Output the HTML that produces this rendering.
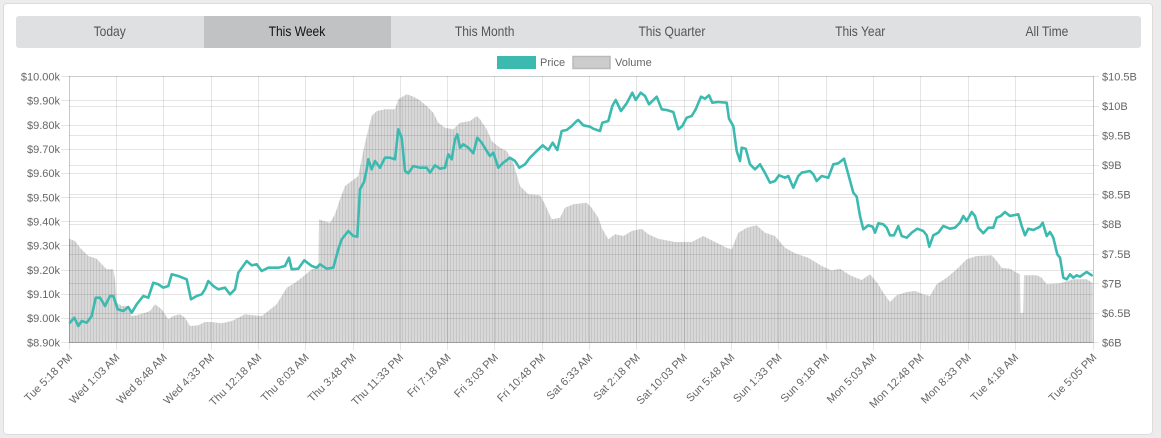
<!DOCTYPE html>
<html>
<head>
<meta charset="utf-8">
<style>
  html,body{margin:0;padding:0;}
  body{width:1161px;height:438px;background:#ececec;position:relative;overflow:hidden;font-family:"Liberation Sans",Arial,sans-serif;}
  .card{position:absolute;left:3px;top:3px;width:1148px;height:430px;background:#fff;border:1px solid #dcdcdc;border-radius:4px;}
  .tabs{position:absolute;left:16px;top:16px;width:1125px;height:32px;background:#dfe0e1;border-radius:3px;display:flex;overflow:hidden;}
  .tab{flex:1;text-align:center;line-height:31px;font-size:14px;color:#555;}
  .tab span{display:inline-block;transform:scaleX(0.86);}
  .tab.active{background:#c1c2c3;color:#111;}
  svg{position:absolute;left:0;top:0;}
</style>
</head>
<body>
<div class="card"></div>
<div class="tabs">
  <div class="tab"><span>Today</span></div>
  <div class="tab active"><span>This Week</span></div>
  <div class="tab"><span>This Month</span></div>
  <div class="tab"><span>This Quarter</span></div>
  <div class="tab"><span>This Year</span></div>
  <div class="tab"><span>All Time</span></div>
</div>
<svg width="1161" height="438" viewBox="0 0 1161 438" xmlns="http://www.w3.org/2000/svg" font-family="Liberation Sans, Arial, sans-serif">
  <defs>
    <pattern id="st" width="3" height="10" patternUnits="userSpaceOnUse">
      <rect width="3" height="10" fill="#d8d8d8"/>
      <rect width="1" height="10" fill="#c6c6c6"/>
    </pattern>
  </defs>

  <!-- legend -->
  <rect x="497" y="56" width="39" height="13" fill="#3cbab0"/>
  <text x="540" y="66" font-size="11" fill="#666">Price</text>
  <rect x="573" y="56.5" width="37" height="12" fill="#cccccc" stroke="#b9b9b9" stroke-width="1.5"/>
  <text x="615" y="66" font-size="11" fill="#666">Volume</text>

  <!-- volume -->
  <polygon fill="url(#st)" points="69,238.7 75,241 80,247.7 88.3,256 96.7,258.7 101.7,264.3 106.7,269.3 113.3,269.3 115,279.3 116.7,302.7 121.7,306 126.7,306 131.7,316 136.7,315.3 145,312.7 150,311 155,304.3 161.7,309.3 168.3,319.3 173.3,316 180,314.3 185,317.7 190,326 198.3,325.3 205,322 211.7,322 221.7,323.3 231.7,321 238.3,317.7 245,314.3 253.3,315.3 261.7,316 268.3,311 276.7,304.3 281.7,296 286.7,287.7 295,282.7 301.7,277.7 311.7,269.3 316.7,267.7 318.5,267.7 319,219.3 323.3,221 330,222.7 335,214.3 340,199.3 345,186 351.7,181 358.3,176 365,142.7 371.7,116 376.7,111 385,109.3 395,109.3 398.3,99.3 406.7,94.3 411.7,96 418.3,99.3 426.7,106 433.3,112.7 438.3,122.7 445,127.7 453.3,129.3 460,122.7 470,121 476.7,116 480,119.3 486.7,129.3 491.7,141 500,147.7 506.7,151 513.3,162.7 520,186 528.3,194.3 540,195.3 545,204.3 551.7,219.3 560,217.7 565,207.7 573.3,204.3 580,203.5 586.7,202.7 591.7,207.7 598.3,217.7 601.7,227.7 608.3,239.3 615,234.3 623.3,236 631.7,231 641.7,228.7 648.3,234.3 658.3,238.7 675,242 691.7,242 703.3,236 715,242 726.7,247.7 731.7,249.3 738.3,232.7 746.7,227.7 756.7,225.3 765,232.7 775,236 785,247.7 795,253.3 808.3,257.7 821.7,266 831.7,270.5 840,268.7 850,275.3 861.7,280 870,274.3 878.3,284.3 883.3,292.7 890,302 896.7,295.3 906.7,292 915,291 923.3,294.3 930,296 936.7,284.3 946.7,277.7 956.7,269.3 966.7,259.3 976.7,256 991.7,255.3 996.7,261 1001.7,267.7 1010,268.7 1016.7,272.7 1020,274.3 1020.5,313.3 1023.3,312.7 1024,275.3 1036.7,275.3 1041.7,277.7 1046.7,284.3 1060,283.3 1073.3,279.3 1086.7,279.3 1092.5,282.7 1092.5,342.7 69,342.7"/>

  <!-- grid -->
  <g stroke="rgba(0,0,0,0.1)" stroke-width="1" fill="none">
    <!-- left grid + ticks -->
    <path d="M61 76.5H1093 M61 100.5H1093 M61 125.5H1093 M61 149.5H1093 M61 173.5H1093 M61 197.5H1093 M61 221.5H1093 M61 245.5H1093 M61 270.5H1093 M61 294.5H1093 M61 318.5H1093 M61 342.5H1093"/>
    <!-- right grid + ticks -->
    <path d="M69 76.5H1099 M69 106.5H1099 M69 135.5H1099 M69 165.5H1099 M69 194.5H1099 M69 224.5H1099 M69 254.5H1099 M69 283.5H1099 M69 313.5H1099 M69 342.5H1099"/>
    <!-- vertical grid + ticks -->
    <path d="M69.5 76V350 M116.5 76V350 M163.5 76V350 M211.5 76V350 M258.5 76V350 M305.5 76V350 M353.5 76V350 M400.5 76V350 M447.5 76V350 M494.5 76V350 M542.5 76V350 M589.5 76V350 M636.5 76V350 M684.5 76V350 M731.5 76V350 M778.5 76V350 M826.5 76V350 M873.5 76V350 M920.5 76V350 M968.5 76V350 M1015.5 76V350 M1093.5 76V350"/>
  </g>
  <g stroke="rgba(0,0,0,0.12)" stroke-width="1">
    <path d="M69.5 76V343 M1093.5 76V343 M69 342.5H1093"/>
  </g>

  <!-- price line -->
  <polyline fill="none" stroke="#3cbab0" stroke-width="2.6" stroke-linejoin="round" stroke-linecap="round" points="70,322.7 74.3,317.7 78.3,326 81.7,321 86.7,322.7 91.7,316 95.7,297.7 100,297.7 105,306 110,296 113.3,296 117.7,309.3 123.3,311 128.3,307 131.7,312.7 136.7,304.3 143.3,296 148.3,297.7 153.3,282.7 158.3,284.3 163.3,287.7 168.3,286 171.7,274.3 178.3,276 186.7,279.3 191,299.3 196.7,296 201.7,294.3 205,289.3 208.3,281 213.3,286 218.3,289.3 225,287.7 230,294.3 235,289.3 238.3,272.7 246.7,261 251.7,265.3 256.7,264.3 261.7,271 268.3,267.7 278.3,267.7 285,266 289,257.7 291.7,269.3 298.3,268.7 304.3,260.3 311.7,266 316.7,267.7 320,264.3 326.7,268.7 333.3,267.7 338.3,249.3 341.7,239.3 348.3,231 353.3,236 357.3,236.7 360,189.3 364,182 366.7,169.3 368.3,159.3 371.7,169.3 375,161 380,167.7 385,157.7 390,157.7 395,159.3 398.3,129.3 401.7,137.7 405,171 408.3,173.3 413.3,166 420,167.7 426.7,167.7 430,172.7 435,165.3 440,168.7 445,167.7 448.3,154.3 451.7,159.3 455,139.3 457.3,134.3 460,147.7 463.3,144.3 468.3,147.7 473.3,153.3 477.3,137.7 481.7,142.7 486.7,151 490,156 493.3,152.7 498.3,167.7 503.3,162.7 510,157.7 515,161 519.3,167.7 525,164.3 530,157.7 536.7,151 542.7,145.3 548.3,150 552.7,142.7 557.3,150 561.7,131 566.7,130 571.7,126 576.7,121 578.3,120 583.3,125.3 590,126.7 593.3,128.7 600,131 602.3,122.7 608.3,121 612.3,106 615.7,100 621,111 626.7,103.3 632.3,92.7 635.7,100 640.7,92.7 645,96 649,104.3 656.7,96.7 661.7,109.3 666.7,110 673.3,112 678.3,129.3 682.3,126 686.7,117.7 691.7,116 695.7,109.3 701,96.7 705,98.7 709,95.3 712.3,102.7 717.7,102 726.7,102.7 729,118.7 733.3,126 736.7,151 740,161 741.7,147.7 745.7,148.7 750,164.3 755,169.3 760,164.3 765.7,174.3 770,182.7 775,181 779,175.3 785,177.7 788.3,176 793.3,187.7 798.3,176 801.7,172.7 810,171 813.3,174.3 816.7,181 821.7,176 828.3,177.7 833.3,164.3 838.3,163.3 844,158.7 848.3,174.3 853.3,192.7 856.7,196.7 860,216 863.3,229.3 868.3,225.3 872.7,226.7 875,232.7 878.3,223.3 883.3,224.3 886.7,227.7 890,235.3 894,235.3 898.3,226 901.7,236 906.7,237.7 911.7,232.7 917.3,228.7 923.3,231 926.7,235.3 929.3,246.7 933.3,235.3 938.3,232.7 943.3,226 950,228.7 955,227.7 960,222.7 963.3,216 966.7,221 971.7,212 975,216 978.3,227.7 983.3,233.3 988.3,227.7 993.3,227.7 996.7,217.7 1000.7,216 1005,212 1010,216 1018.3,214.3 1021.7,226 1025,235.3 1028.3,228.7 1033.3,230 1040,226.7 1042.7,222.7 1046.7,236 1050,232 1053.3,237.7 1057.3,254.3 1060,257.7 1063.3,277.7 1066.7,279.3 1070,274.3 1073.3,277.7 1076.7,275.3 1080,276.7 1083.3,274.3 1086.7,272 1091.7,275.3"/>

  <!-- left axis labels -->
  <g font-size="11" fill="#666" text-anchor="end">
    <text x="60" y="80.5">$10.00k</text>
    <text x="60" y="104.5">$9.90k</text>
    <text x="60" y="129">$9.80k</text>
    <text x="60" y="153">$9.70k</text>
    <text x="60" y="177">$9.60k</text>
    <text x="60" y="201.5">$9.50k</text>
    <text x="60" y="225.5">$9.40k</text>
    <text x="60" y="249.5">$9.30k</text>
    <text x="60" y="274">$9.20k</text>
    <text x="60" y="298">$9.10k</text>
    <text x="60" y="322">$9.00k</text>
    <text x="60" y="346.5">$8.90k</text>
  </g>
  <!-- right axis labels -->
  <g font-size="11" fill="#666" text-anchor="start">
    <text x="1102" y="80.5">$10.5B</text>
    <text x="1102" y="110">$10B</text>
    <text x="1102" y="139.5">$9.5B</text>
    <text x="1102" y="169">$9B</text>
    <text x="1102" y="198.5">$8.5B</text>
    <text x="1102" y="228">$8B</text>
    <text x="1102" y="258">$7.5B</text>
    <text x="1102" y="287.5">$7B</text>
    <text x="1102" y="317">$6.5B</text>
    <text x="1102" y="346.5">$6B</text>
  </g>
  <!-- x axis labels -->
  <g font-size="11" fill="#666" text-anchor="end">
    <text x="73" y="358" transform="rotate(-45 73 358)">Tue 5:18 PM</text>
    <text x="120.3" y="358" transform="rotate(-45 120.3 358)">Wed 1:03 AM</text>
    <text x="167.6" y="358" transform="rotate(-45 167.6 358)">Wed 8:48 AM</text>
    <text x="214.9" y="358" transform="rotate(-45 214.9 358)">Wed 4:33 PM</text>
    <text x="262.2" y="358" transform="rotate(-45 262.2 358)">Thu 12:18 AM</text>
    <text x="309.5" y="358" transform="rotate(-45 309.5 358)">Thu 8:03 AM</text>
    <text x="356.8" y="358" transform="rotate(-45 356.8 358)">Thu 3:48 PM</text>
    <text x="404.1" y="358" transform="rotate(-45 404.1 358)">Thu 11:33 PM</text>
    <text x="451.4" y="358" transform="rotate(-45 451.4 358)">Fri 7:18 AM</text>
    <text x="498.7" y="358" transform="rotate(-45 498.7 358)">Fri 3:03 PM</text>
    <text x="546" y="358" transform="rotate(-45 546 358)">Fri 10:48 PM</text>
    <text x="593.3" y="358" transform="rotate(-45 593.3 358)">Sat 6:33 AM</text>
    <text x="640.6" y="358" transform="rotate(-45 640.6 358)">Sat 2:18 PM</text>
    <text x="687.9" y="358" transform="rotate(-45 687.9 358)">Sat 10:03 PM</text>
    <text x="735.2" y="358" transform="rotate(-45 735.2 358)">Sun 5:48 AM</text>
    <text x="782.5" y="358" transform="rotate(-45 782.5 358)">Sun 1:33 PM</text>
    <text x="829.8" y="358" transform="rotate(-45 829.8 358)">Sun 9:18 PM</text>
    <text x="877.1" y="358" transform="rotate(-45 877.1 358)">Mon 5:03 AM</text>
    <text x="924.4" y="358" transform="rotate(-45 924.4 358)">Mon 12:48 PM</text>
    <text x="971.7" y="358" transform="rotate(-45 971.7 358)">Mon 8:33 PM</text>
    <text x="1019" y="358" transform="rotate(-45 1019 358)">Tue 4:18 AM</text>
    <text x="1097.3" y="358" transform="rotate(-45 1097.3 358)">Tue 5:05 PM</text>
  </g>
</svg>
</body>
</html>
